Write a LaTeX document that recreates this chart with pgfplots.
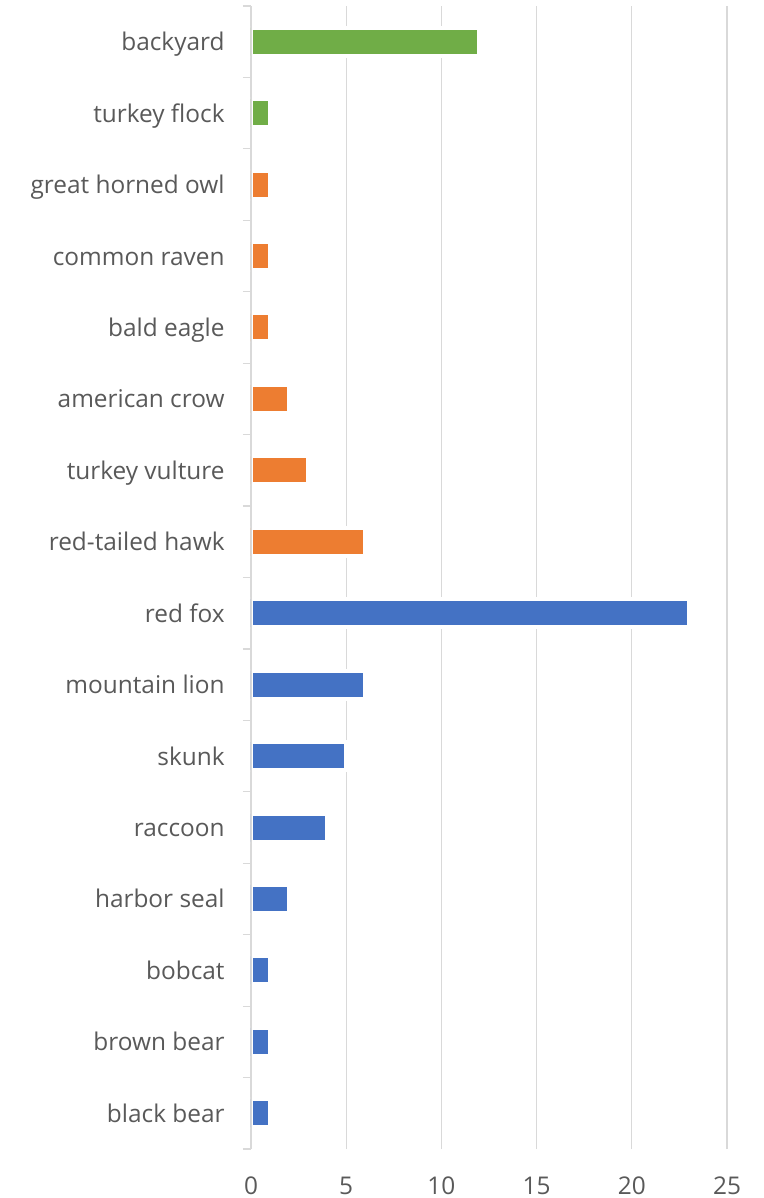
\documentclass[border=0pt]{standalone}
\usepackage{pgfplots}
\pgfplotsset{compat=1.18}
\usetikzlibrary{calc}
\usepackage{fontspec}
\setmainfont{Open Sans}
\definecolor{barblue}{HTML}{4472C4}
\definecolor{barorange}{HTML}{ED7D31}
\definecolor{bargreen}{HTML}{70AD47}
\definecolor{gridgray}{HTML}{D9D9D9}
\definecolor{labelgray}{HTML}{595959}
\begin{document}
\begin{tikzpicture}
\begin{axis}[
  name=main,
  scale only axis,
  width=238pt, height=571.5pt,
  xbar, bar width=14pt, bar shift=0pt,
  xmin=0, xmax=25, ymin=-0.5, ymax=15.5,
  enlargelimits=false,
  axis y line*=left, axis x line*=bottom,
  x axis line style={draw=none},
  y axis line style={draw=none},
  xtick={0,5,...,25},
  ytick={0,...,15},
  yticklabels={black bear,brown bear,bobcat,harbor seal,raccoon,skunk,mountain lion,red fox,red-tailed hawk,turkey vulture,american crow,bald eagle,common raven,great horned owl,turkey flock,backyard},
  minor ytick={-0.5,0.5,...,15.5},
  major tick length=0pt, minor tick length=4pt,
  tick align=outside,
  tick style={color=gridgray, line width=0.6pt},
  xmajorgrids,
  major grid style={color=gridgray, line width=0.6pt},
  ticklabel style={font=\fontsize{12.2}{15}\selectfont, text=labelgray},
  xticklabel style={inner sep=0pt, anchor=base, yshift=-22.5pt},
  yticklabel style={inner sep=0pt, anchor=base east, xshift=-13pt, yshift=-4.5pt},
  /pgf/number format/assume math mode=true,
  every axis plot/.append style={draw=white, line width=2pt},
]
% mammals
\addplot[fill=barblue] coordinates {(1,0) (1,1) (1,2) (2,3) (4,4) (5,5) (6,6) (23,7)};
% birds
\addplot[fill=barorange] coordinates {(6,8) (3,9) (2,10) (1,11) (1,12) (1,13)};
% other
\addplot[fill=bargreen] coordinates {(1,14) (12,15)};
% left axis line above the bar outlines
\draw[gridgray, line width=0.6pt] (axis cs:0,-0.5) -- (axis cs:0,15.5);
\end{axis}
\pgfresetboundingbox
\path[use as bounding box] ($(main.south west)+(-125.5pt,-24.5pt)$) rectangle ($(main.north east)+(18.5pt,3pt)$);
\end{tikzpicture}
\end{document}
